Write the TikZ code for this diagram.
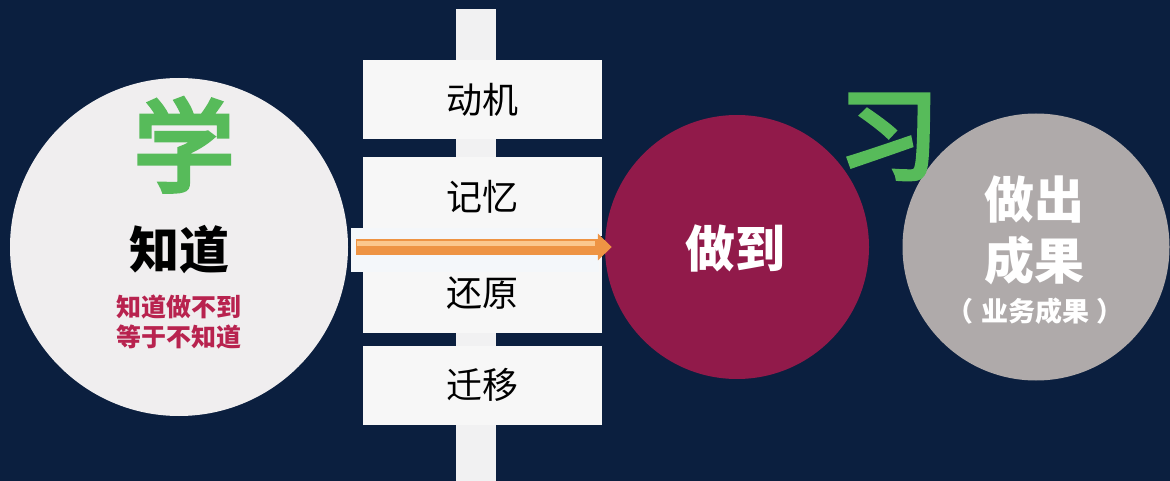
\documentclass[tikz,border=0pt]{standalone}
\usepackage{fontspec}
\newfontfamily\cjk{Noto Sans CJK SC}
\newfontfamily\cjkheavy{Noto Sans CJK SC}[FakeBold=5]
\usetikzlibrary{arrows.meta}
\definecolor{bgnavy}{HTML}{0B1F3F}
\definecolor{paleball}{HTML}{F0EEEF}
\definecolor{wineball}{HTML}{911A4A}
\definecolor{greyball}{HTML}{AFAAAA}
\definecolor{leafgreen}{HTML}{57BB5A}
\definecolor{rosered}{HTML}{B8234F}
\definecolor{signwhite}{HTML}{F7F7F7}
\definecolor{polewhite}{HTML}{F1F1F2}
\definecolor{glowwhite}{HTML}{F4F7FA}
\definecolor{arroworange}{HTML}{EE9444}
\definecolor{arrowlight}{HTML}{FBC88E}
\begin{document}
\begin{tikzpicture}[x=1pt,y=-1pt,font=\cjk]
	\tikzset{ball/.style={circle,inner sep=0pt,minimum size=#1},
		sign/.style={fill=signwhite,minimum width=239pt,minimum height=79pt,inner sep=0pt,font=\cjk\fontsize{36}{36}\selectfont},
		bigword/.style={font=\cjkheavy\fontsize{100}{100}\selectfont,text=leafgreen,inner sep=0pt},
		boldword/.style={font=\cjk\bfseries\fontsize{#1}{#1}\selectfont,inner sep=0pt,align=center}}
	\fill[bgnavy] (0,0) rectangle (1170,481);
	\useasboundingbox (0,0) rectangle (1170,481);
	% circles
	\node[ball=338pt,fill=paleball] (know) at (179,247) {};
	\node[ball=264pt,fill=wineball] (do) at (737,247) {};
	\node[ball=267pt,fill=greyball] (result) at (1036,247) {};
	% sign post
	\fill[polewhite] (456,9) rectangle (496,481);
	\node[sign] (motive) at (482.5,100) {动机};
	\node[sign] (memory) at (482.5,197) {记忆};
	\node[sign] (restore) at (482.5,293) {还原};
	\node[sign] (transfer) at (482.5,385) {迁移};
	\fill[glowwhite] (351,228) rectangle (599,272);
	% arrow
	\draw[arroworange,line width=16pt,-{Triangle[length=14pt,width=26pt]}] ([xshift=8pt]know.east) -- ([xshift=7pt]do.west);
	\draw[arrowlight,line width=5pt] ([xshift=9pt,yshift=3pt]know.east) -- ([xshift=-10pt,yshift=3pt]do.west);
	% texts
	\node[bigword] (xue) at (184,145) {学};
	\node[boldword=50] (zhidao) at (179,250) {知道};
	\node[font=\cjk\bfseries\fontsize{25}{30}\selectfont,text=rosered,align=center] (motto) at (179,322) {知道做不到\\等于不知道};
	\node[bigword] (xi) at (889,137) {习};
	\node[boldword=50,text=white] (zuodao) at (735,248) {做到};
	\node[font=\cjk\bfseries\fontsize{50}{61}\selectfont,text=white,align=center] (chengguo) at (1034,230) {做出\\成果};
	\node[boldword=27,text=white] (yewu) at (1035,311) {（\hspace{8pt}业务成果\hspace{8pt}）};
\end{tikzpicture}
\end{document}
